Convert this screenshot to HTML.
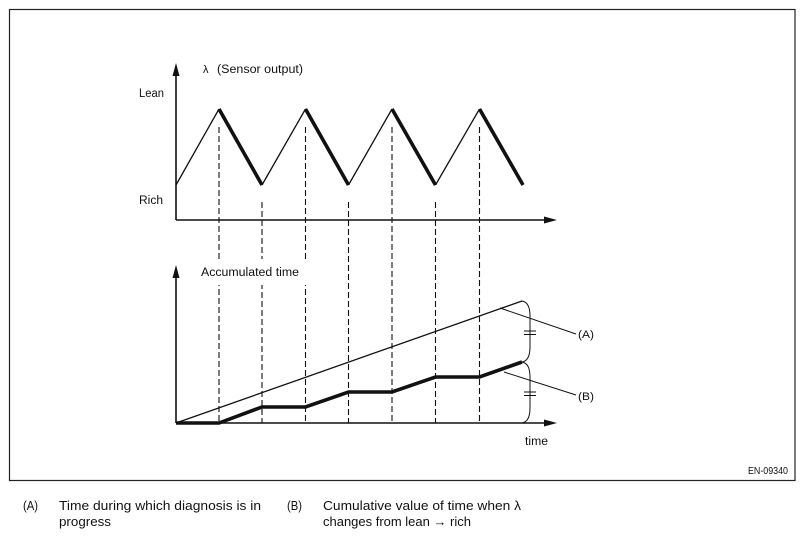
<!DOCTYPE html>
<html>
<head>
<meta charset="utf-8">
<style>
html,body{margin:0;padding:0;background:#fff;}
svg{display:block;}
text{font-family:"Liberation Sans",Arial,sans-serif;fill:#111;}
</style>
</head>
<body>
<svg width="804" height="539" viewBox="0 0 804 539" xmlns="http://www.w3.org/2000/svg">
  <rect x="0" y="0" width="804" height="539" fill="#fff"/>
  <!-- frame -->
  <rect x="9.5" y="9.5" width="785.5" height="471" fill="none" stroke="#222" stroke-width="1.2"/>

  <!-- dashed verticals -->
  <g stroke="#111" stroke-width="1.1" stroke-dasharray="6,3" fill="none">
    <line x1="219" y1="127" x2="219" y2="423"/>
    <line x1="305.5" y1="127" x2="305.5" y2="423"/>
    <line x1="392" y1="127" x2="392" y2="423"/>
    <line x1="479.5" y1="127" x2="479.5" y2="423"/>
    <line x1="262" y1="202" x2="262" y2="423"/>
    <line x1="348.5" y1="202" x2="348.5" y2="423"/>
    <line x1="435.5" y1="202" x2="435.5" y2="423"/>
  </g>

  <!-- white patch behind Accumulated time label -->
  <rect x="198" y="259" width="112" height="26" fill="#fff"/>

  <!-- upper axes -->
  <g stroke="#111" stroke-width="1.6" fill="none">
    <line x1="176" y1="72" x2="176" y2="220"/>
    <line x1="176" y1="220" x2="548" y2="220"/>
  </g>
  <polygon points="176,63 172.5,76 179.5,76" fill="#111"/>
  <polygon points="557,220 544,216.5 544,223.5" fill="#111"/>

  <!-- lambda wave -->
  <g stroke="#111" fill="none" stroke-linejoin="miter">
    <g stroke-width="1.3">
      <line x1="176" y1="185" x2="219" y2="109"/>
      <line x1="262" y1="185" x2="305.5" y2="109"/>
      <line x1="348.5" y1="185" x2="392" y2="109"/>
      <line x1="435.5" y1="185" x2="479.5" y2="109"/>
    </g>
    <g stroke-width="3.6">
      <line x1="219" y1="109" x2="262" y2="185"/>
      <line x1="305.5" y1="109" x2="348.5" y2="185"/>
      <line x1="392" y1="109" x2="435.5" y2="185"/>
      <line x1="479.5" y1="109" x2="523" y2="185"/>
    </g>
  </g>

  <!-- upper labels -->
  <text x="203" y="73" font-size="11">λ</text>
  <text x="217" y="73" font-size="11.5" textLength="86" lengthAdjust="spacingAndGlyphs">(Sensor output)</text>
  <text x="139" y="97" font-size="11.5" textLength="25" lengthAdjust="spacingAndGlyphs">Lean</text>
  <text x="139" y="204" font-size="11.5" textLength="24" lengthAdjust="spacingAndGlyphs">Rich</text>

  <!-- lower axes -->
  <g stroke="#111" stroke-width="1.6" fill="none">
    <line x1="176" y1="274" x2="176" y2="423"/>
    <line x1="176" y1="423" x2="548" y2="423"/>
  </g>
  <polygon points="176,265 172.5,278 179.5,278" fill="#111"/>
  <polygon points="557,423 544,419.5 544,426.5" fill="#111"/>

  <!-- line A -->
  <line x1="176" y1="423" x2="522" y2="301" stroke="#111" stroke-width="1.3"/>
  <!-- line B -->
  <polyline points="176,423 219,423 262,407 305.5,407 348.5,392 392,392 435.5,377 479.5,377 522,362" fill="none" stroke="#111" stroke-width="3.6" stroke-linejoin="miter"/>

  <!-- brackets -->
  <g stroke="#111" stroke-width="1" fill="none">
    <path d="M522,301 C528,302 530,308 530,316 L530,347 C530,355 528,361 522,362"/>
    <path d="M522,362 C528,363 530,369 530,377 L530,408 C530,416 528,422 522,423"/>
    <line x1="524" y1="331" x2="536" y2="331"/>
    <line x1="524" y1="334.5" x2="536" y2="334.5"/>
    <line x1="524" y1="392" x2="536" y2="392"/>
    <line x1="524" y1="395.5" x2="536" y2="395.5"/>
    <!-- leaders -->
    <line x1="500" y1="308" x2="576" y2="334"/>
    <line x1="504" y1="372" x2="576" y2="395"/>
  </g>

  <text x="578" y="338" font-size="11" textLength="16" lengthAdjust="spacingAndGlyphs">(A)</text>
  <text x="578" y="400" font-size="11" textLength="16" lengthAdjust="spacingAndGlyphs">(B)</text>
  <text x="201" y="276" font-size="11.5" textLength="98" lengthAdjust="spacingAndGlyphs">Accumulated time</text>
  <text x="525" y="445" font-size="11.5" textLength="23" lengthAdjust="spacingAndGlyphs">time</text>

  <!-- figure id -->
  <text x="748" y="474" font-size="10.5" textLength="40" lengthAdjust="spacingAndGlyphs">EN-09340</text>

  <!-- legend -->
  <text x="23" y="510" font-size="12.5" textLength="15" lengthAdjust="spacingAndGlyphs">(A)</text>
  <text x="59" y="510" font-size="12.5" textLength="202" lengthAdjust="spacingAndGlyphs">Time during which diagnosis is in</text>
  <text x="59" y="526" font-size="12.5" textLength="52" lengthAdjust="spacingAndGlyphs">progress</text>
  <text x="287" y="510" font-size="12.5" textLength="15" lengthAdjust="spacingAndGlyphs">(B)</text>
  <text x="323" y="510" font-size="12.5" textLength="198" lengthAdjust="spacingAndGlyphs">Cumulative value of time when λ</text>
  <text x="323" y="526" font-size="12.5" textLength="148" lengthAdjust="spacingAndGlyphs">changes from lean → rich</text>
</svg>
</body>
</html>
